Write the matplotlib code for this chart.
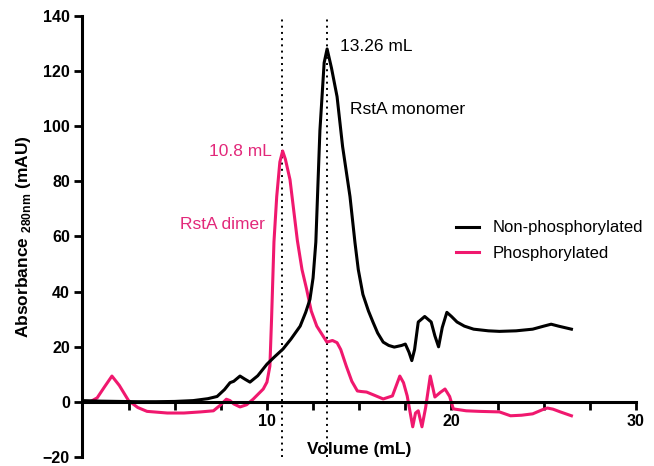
import matplotlib
matplotlib.use("Agg")
import matplotlib.pyplot as plt

# chromatogram (volume in mL, absorbance in mAU)
black_x = [0, 1, 2, 3, 4, 5, 6, 6.8, 7.3, 7.7, 8.0, 8.2, 8.54, 8.8, 9.08, 9.5, 10.0, 10.4,
           10.87, 11.3, 11.8, 12.1, 12.33, 12.5, 12.65, 12.87, 13.1, 13.26, 13.5, 13.8, 14.1,
           14.5, 14.77, 14.95, 15.2, 15.5, 15.75, 16.0, 16.3, 16.6, 16.9, 17.3, 17.5, 17.7,
           17.85, 18.0, 18.2, 18.55, 18.9, 19.1, 19.3, 19.5, 19.75, 20.0, 20.3, 20.7, 21.2,
           22.0, 22.6, 23.5, 24.4, 25.0, 25.4, 25.8, 26.5]
black_y = [0.5, 0.3, 0.2, 0.1, 0.1, 0.2, 0.5, 1.2, 2.0, 4.5, 7.0, 7.5, 9.4, 8.3, 7.2, 9.5, 13.7,
           16.3, 19.2, 22.8, 27.5, 32.5, 37.2, 45.0, 58.0, 98.4, 123.0, 128.0, 121.0, 110.7,
           92.6, 74.5, 57.8, 48.0, 39.0, 33.0, 28.9, 25.0, 21.7, 20.5, 19.9, 20.5, 21.0, 18.0,
           15.0, 19.0, 29.0, 31.0, 29.0, 24.0, 20.0, 27.0, 32.5, 31.0, 29.0, 27.5, 26.4,
           25.8, 25.6, 25.8, 26.4, 27.5, 28.2, 27.5, 26.4]

pink_x = [0.4, 0.8, 1.2, 1.6, 2.0, 2.5, 3.0, 3.5, 4.6, 5.5, 6.4, 7.1, 7.5, 7.8, 8.0,
          8.2, 8.54, 8.9, 9.25, 9.8, 10.0, 10.16, 10.25, 10.38, 10.53, 10.7, 10.85, 11.0, 11.25,
          11.65, 11.9, 12.15, 12.4, 12.7, 13.25, 13.55, 13.8, 14.0, 14.3, 14.6, 14.9, 15.1,
          15.4, 15.8, 16.3, 16.8, 17.2, 17.4, 17.6, 17.9, 18.05, 18.2, 18.4, 18.6, 18.85,
          19.1, 19.4, 19.65, 19.9, 20.1, 20.8, 21.5, 22.6, 23.2, 23.8, 24.4, 25.0, 25.2,
          25.5, 25.9, 26.5]
pink_y = [0.0, 1.5, 5.5, 9.4, 6.0, 0.5, -2.0, -3.4, -4.0, -4.0, -3.6, -3.2, -1.0,
          1.0, 0.5, -0.7, -1.8, -1.0, 1.0, 4.7, 7.2, 13.0, 30.0, 58.0, 74.5, 87.0, 91.0, 88.0,
          80.6, 58.5, 48.0, 40.9, 33.0, 27.5, 21.7, 22.3, 21.5, 19.0, 13.0, 7.5, 4.0, 3.8,
          3.6, 2.5, 1.1, 2.2, 9.4, 7.0, 2.2, -9.0, -4.0, -3.2, -9.0, -2.0, 9.4,
          1.8, 3.5, 4.7, 2.0, -2.5, -3.2, -3.4, -3.6, -5.0, -4.8, -4.3, -2.6, -2.2,
          -2.6, -3.6, -5.0]

peak_volumes = [10.8, 13.26]
series_names = ["Non-phosphorylated", "Phosphorylated"]
x_ticks = [0, 2.5, 5, 7.5, 10, 12.5, 15, 17.5, 20, 22.5, 25, 27.5, 30]
x_tick_labels = ["", "", "", "", "10", "", "", "", "20", "", "", "", "30"]
y_ticks = [-20, 0, 20, 40, 60, 80, 100, 120, 140]

PINK = "#f0186e"
PINK_TEXT = "#e2287a"

plt.rcParams["font.family"] = ["Liberation Sans", "DejaVu Sans"]

fig = plt.figure(figsize=(6.54, 4.66), dpi=100)
ax = fig.add_axes([0.126, 0.019, 0.8465, 0.947])

ax.vlines(peak_volumes, -20, 140, colors="black", linestyles=(0, (1, 2.2)), lw=1.4, zorder=1)
ax.plot(black_x, black_y, color="black", lw=2.2, label=series_names[0], zorder=3,
        solid_joinstyle="round")
ax.plot(pink_x, pink_y, color=PINK, lw=2.2, label=series_names[1], zorder=2,
        solid_joinstyle="round")

ax.set_xlim(0, 30)
ax.set_ylim(-20, 140)
ax.spines["top"].set_visible(False)
ax.spines["right"].set_visible(False)
ax.spines["bottom"].set_position(("data", 0))
for s in ("left", "bottom"):
    ax.spines[s].set_linewidth(2.2)
ax.set_xticks(x_ticks)
ax.set_xticklabels(x_tick_labels)
ax.set_yticks(y_ticks)
ax.tick_params(width=2.0, length=6, labelsize=11.5, direction="out", pad=3)
for lab in ax.get_xticklabels() + ax.get_yticklabels():
    lab.set_fontweight("bold")

ax.set_xlabel("Volume (mL)", fontsize=12.5, fontweight="bold")
ax.xaxis.set_label_coords(0.5, 0.035)
ax.set_ylabel(r"Absorbance $_{\mathregular{280nm}}$ (mAU)", fontsize=12.5, fontweight="bold")
ax.yaxis.set_label_coords(-0.09, 0.5)

ax.text(13.96, 128.9, "13.26 mL", fontsize=12.5, ha="left", va="center")
ax.text(14.5, 106, "RstA monomer", fontsize=12.5, ha="left", va="center")
ax.text(10.27, 90.8, "10.8 mL", fontsize=12.5, ha="right", va="center", color=PINK_TEXT)
ax.text(9.9, 64.4, "RstA dimer", fontsize=12.5, ha="right", va="center", color=PINK_TEXT)

ax.legend(loc="center left", bbox_to_anchor=(0.648, 0.49), frameon=False, fontsize=12,
          handlelength=1.4, handletextpad=0.8, labelspacing=0.65)

fig.savefig("out.png", dpi=100)
